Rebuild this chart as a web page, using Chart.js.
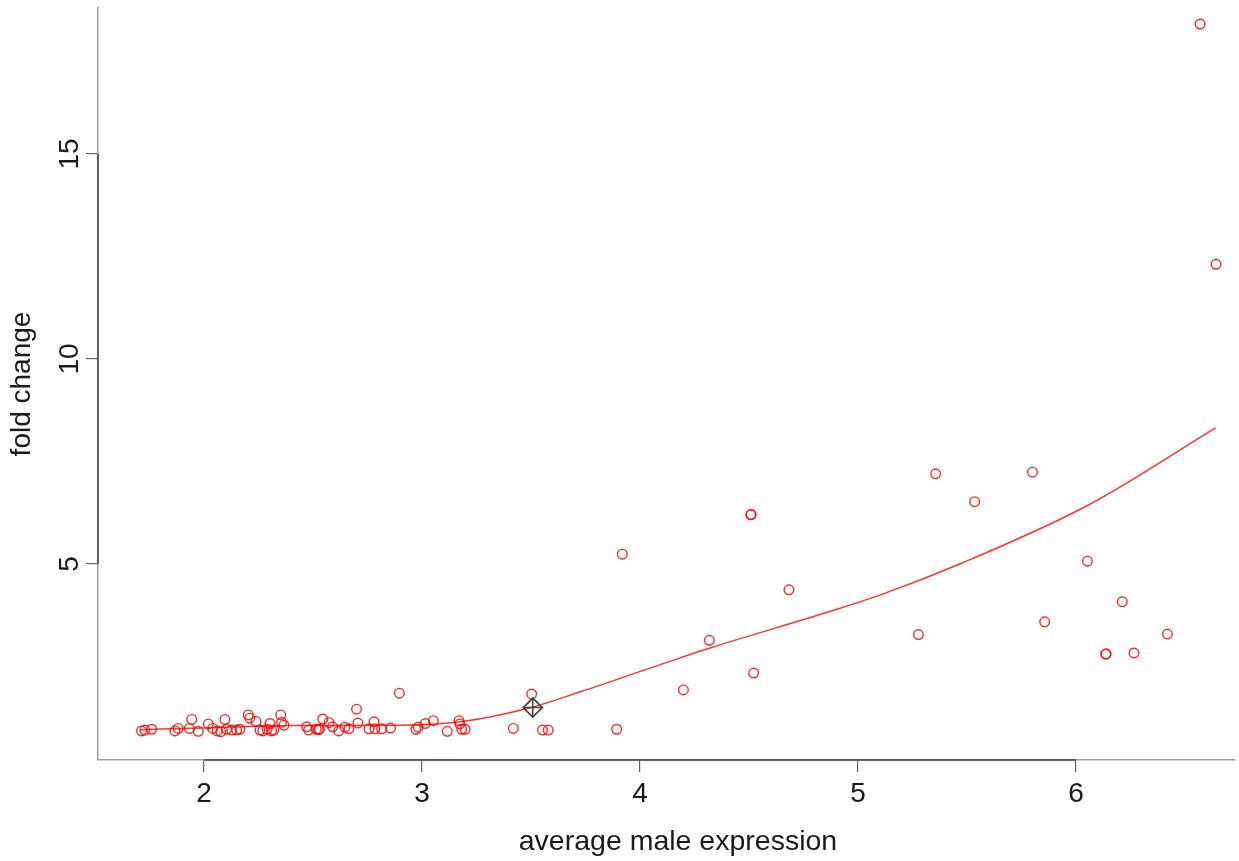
<!DOCTYPE html>
<html>
<head>
<meta charset="utf-8">
<script src="https://cdn.jsdelivr.net/npm/chart.js"></script>
<style>
  html, body { margin: 0; padding: 0; background: #fff; }
  #wrap { width: 1239px; height: 861px; }
</style>
</head>
<body>
<div id="wrap"><canvas id="chart_plot" width="1239" height="861"></canvas></div>
<script>
// average male expression (x) and fold change (y) per gene
const maleExpr = [
  1.714, 1.729, 1.760, 1.867, 1.882, 1.933, 1.944, 1.974, 2.020, 2.040,
  2.061, 2.077, 2.096, 2.104, 2.127, 2.150, 2.165, 2.203, 2.210, 2.239,
  2.257, 2.270, 2.290, 2.303, 2.310, 2.320, 2.352, 2.356, 2.367,
  2.471, 2.480, 2.515, 2.525, 2.530, 2.545, 2.574, 2.590, 2.618, 2.647,
  2.665, 2.700, 2.706, 2.757, 2.780, 2.784, 2.815, 2.856, 2.896, 2.972,
  2.982, 3.015, 3.052, 3.116, 3.170, 3.174, 3.182, 3.198,
  3.419, 3.503, 3.553, 3.579, 3.893,
  3.919, 4.199, 4.318, 4.508, 4.510, 4.521, 4.683, 5.277, 5.356, 5.535,
  5.800, 5.856, 6.052, 6.136, 6.138, 6.212, 6.266, 6.419, 6.569, 6.642
];
const foldChange = [
  0.93, 0.95, 0.97, 0.93, 0.99, 0.99, 1.21, 0.92, 1.10, 0.99,
  0.93, 0.91, 1.21, 0.97, 0.95, 0.95, 0.97, 1.32, 1.24, 1.16,
  0.95, 0.93, 0.97, 1.11, 0.93, 0.95, 1.32, 1.14, 1.07,
  1.03, 0.95, 0.97, 0.97, 0.97, 1.22, 1.13, 1.03, 0.93, 1.02,
  0.98, 1.46, 1.12, 0.98, 1.15, 0.98, 0.98, 1.00, 1.85, 0.97,
  1.02, 1.11, 1.18, 0.92, 1.18, 1.10, 0.97, 0.97,
  0.99, 1.83, 0.95, 0.95, 0.97,
  5.24, 1.93, 3.14, 6.20, 6.21, 2.34, 4.37, 3.28, 7.20, 6.52,
  7.24, 3.59, 5.07, 2.80, 2.81, 4.08, 2.83, 3.29, 18.17, 12.31
];

// fitted trend line
const fitX = [1.71, 2.0, 2.4, 2.9, 3.2, 3.5, 3.73, 4.09, 4.32, 4.87, 5.10, 5.48, 6.05, 6.64];
const fitY = [0.96, 1.00, 1.06, 1.07, 1.17, 1.50, 1.89, 2.54, 2.95, 3.84, 4.24, 5.03, 6.42, 8.32];

// highlighted gene (diamond marker)
const markX = [3.508];
const markY = [1.50];

const xTicks = [2, 3, 4, 5, 6];
const yTicks = [5, 10, 15];
const xTitle = 'average male expression';
const yTitle = 'fold change';

const FONT = 'Liberation Sans, Arial, Helvetica, sans-serif';

function pairs(xs, ys) {
  return xs.map(function(x, i) { return {x: x, y: ys[i]}; });
}

// R style axis: light box line, darker segment between first and last tick,
// and the x title centred on R's (wider) plot region
const axisExtras = {
  id: 'axisExtras',
  afterDraw: function(chart) {
    const ctx = chart.ctx, xs = chart.scales.x, ys = chart.scales.y;
    const a = chart.chartArea;
    ctx.save();
    ctx.strokeStyle = '#444';
    ctx.lineWidth = 1.5;
    ctx.beginPath();
    ctx.moveTo(xs.getPixelForValue(xTicks[0]), a.bottom);
    ctx.lineTo(xs.getPixelForValue(xTicks[xTicks.length - 1]), a.bottom);
    ctx.moveTo(a.left, ys.getPixelForValue(yTicks[0]));
    ctx.lineTo(a.left, ys.getPixelForValue(yTicks[yTicks.length - 1]));
    ctx.stroke();

    ctx.fillStyle = '#1a1a1a';
    ctx.font = '28.5px ' + FONT;
    ctx.textAlign = 'center';
    ctx.textBaseline = 'middle';
    ctx.fillText(xTitle, xs.getPixelForValue(4.174), 842);
    ctx.restore();
  }
};

const ctx = document.getElementById('chart_plot');

new Chart(ctx, {
  type: 'scatter',
  data: {
    datasets: [
      {
        label: 'marker',
        data: pairs(markX, markY),
        pointStyle: 'rectRot',
        pointRadius: 9.5,
        borderColor: '#444',
        backgroundColor: 'rgba(0,0,0,0)',
        borderWidth: 1.8
      },
      {
        label: 'marker cross',
        data: pairs(markX, markY),
        pointStyle: 'cross',
        pointRadius: 9.5,
        borderColor: '#444',
        borderWidth: 1.5
      },
      {
        label: 'genes',
        data: pairs(maleExpr, foldChange),
        pointStyle: 'circle',
        pointRadius: 4.8,
        borderColor: 'rgba(255,0,0,0.85)',
        backgroundColor: 'rgba(0,0,0,0)',
        borderWidth: 1.4
      },
      {
        label: 'fit',
        data: pairs(fitX, fitY),
        showLine: true,
        cubicInterpolationMode: 'monotone',
        pointRadius: 0,
        borderColor: 'rgba(255,0,0,0.8)',
        borderWidth: 1.5
      }
    ]
  },
  options: {
    responsive: false,
    animation: false,
    devicePixelRatio: 1,
    layout: { autoPadding: false, padding: { top: 8, right: 4, left: 0, bottom: 0 } },
    plugins: {
      legend: { display: false },
      tooltip: { enabled: false }
    },
    scales: {
      x: {
        type: 'linear',
        min: 1.514,
        max: 6.729,
        afterBuildTicks: function(s) { s.ticks = xTicks.map(function(v) { return {value: v}; }); },
        afterFit: function(s) { s.height = 101; s.paddingLeft = 0; s.paddingRight = 0; },
        grid: { drawOnChartArea: false, drawTicks: true, tickLength: 12, color: '#666', lineWidth: 1.2 },
        border: { display: true, color: '#9a9a9a', width: 1.5 },
        ticks: { font: { family: FONT, size: 28 }, color: '#1a1a1a', padding: 5, maxRotation: 0 },
        title: { display: false }
      },
      y: {
        type: 'linear',
        min: 0.22,
        max: 18.56,
        afterBuildTicks: function(s) { s.ticks = yTicks.map(function(v) { return {value: v}; }); },
        afterFit: function(s) { s.width = 98; s.paddingTop = 0; s.paddingBottom = 0; },
        grid: { drawOnChartArea: false, drawTicks: true, tickLength: 12, color: '#666', lineWidth: 1.2 },
        border: { display: true, color: '#9a9a9a', width: 1.5 },
        ticks: { font: { family: FONT, size: 28 }, color: '#1a1a1a', padding: 0,
                 minRotation: 90, maxRotation: 90, crossAlign: 'center' },
        title: {
          display: true,
          text: yTitle,
          font: { family: FONT, size: 28 },
          color: '#1a1a1a',
          padding: { top: 5, bottom: 0 }
        }
      }
    }
  },
  plugins: [axisExtras]
});
</script>
</body>
</html>
